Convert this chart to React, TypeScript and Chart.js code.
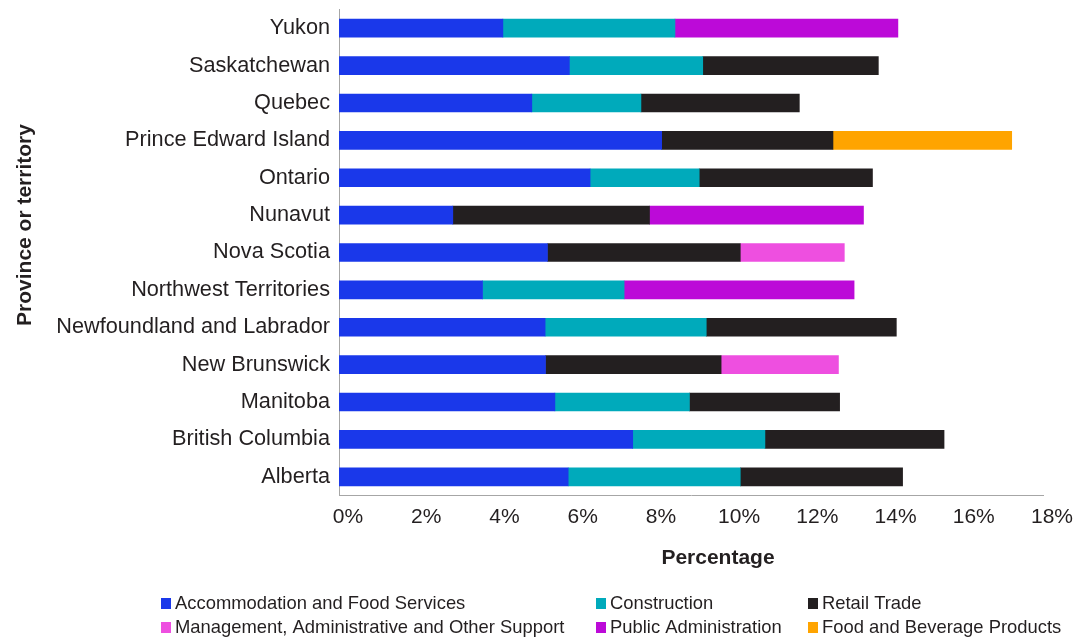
import React, { useEffect, useRef } from "react";
import { Chart, registerables } from "chart.js";

Chart.register(...registerables);

const provinces = [
  "Yukon",
  "Saskatchewan",
  "Quebec",
  "Prince Edward Island",
  "Ontario",
  "Nunavut",
  "Nova Scotia",
  "Northwest Territories",
  "Newfoundland and Labrador",
  "New Brunswick",
  "Manitoba",
  "British Columbia",
  "Alberta",
];

const accommodation = [4.19, 5.89, 4.93, 8.25, 6.42, 2.91, 5.33, 3.67, 5.27, 5.28, 5.52, 7.51, 5.86];
const construction = [4.4, 3.41, 2.79, null, 2.79, null, null, 3.62, 4.12, null, 3.44, 3.38, 4.4];
const retail = [null, 4.49, 4.05, 4.38, 4.43, 5.03, 4.93, null, 4.86, 4.49, 3.84, 4.58, 4.15];
const management = [null, null, null, null, null, null, 2.66, null, null, 3.0, null, null, null];
const publicAdmin = [5.7, null, null, null, null, 5.47, null, 5.88, null, null, null, null, null];
const foodBeverage = [null, null, null, 4.57, null, null, null, null, null, null, null, null, null];

const seriesNames = [
  "Accommodation and Food Services",
  "Construction",
  "Retail Trade",
  "Management, Administrative and Other Support",
  "Public Administration",
  "Food and Beverage Products",
];
const seriesColors = ["#1a38ea", "#00aabb", "#231f20", "#ee4fe0", "#bc0ad8", "#ffa400"];
const xTicks = [0, 2, 4, 6, 8, 10, 12, 14, 16, 18];

const FONT = "'Liberation Sans', Arial, Helvetica, sans-serif";
const TEXT = "#231f20";

const overlayPlugin = {
  id: "overlay",
  afterDraw(chart: any) {
    const ctx = chart.ctx;
    ctx.save();
    ctx.fillStyle = TEXT;
    // x axis title
    ctx.font = `bold 21px ${FONT}`;
    ctx.textAlign = "center";
    ctx.textBaseline = "middle";
    ctx.fillText("Percentage", 718, 558);
    // y axis title
    ctx.save();
    ctx.translate(25, 225);
    ctx.rotate(-Math.PI / 2);
    ctx.fillText("Province or territory", 0, 0);
    ctx.restore();
    // legend
    const cols = [161, 596, 808];
    const rows = [603, 627];
    ctx.font = `18.4px ${FONT}`;
    ctx.textAlign = "left";
    chart.data.datasets.forEach((ds: any, i: number) => {
      const x = cols[i % 3];
      const y = rows[Math.floor(i / 3)];
      ctx.fillStyle = ds.backgroundColor;
      ctx.fillRect(x, y - 5, 10, 11);
      ctx.fillStyle = TEXT;
      ctx.fillText(ds.label, x + 14, y + 1);
    });
    ctx.restore();
  },
};

export default function App() {
  const ref = useRef<HTMLCanvasElement | null>(null);
  useEffect(() => {
    document.body.style.margin = "0";
    const seriesData = [accommodation, construction, retail, management, publicAdmin, foodBeverage];
    const chart = new Chart(ref.current as HTMLCanvasElement, {
      type: "bar",
      data: {
        labels: provinces,
        datasets: seriesNames.map((name, i) => ({
          label: name,
          data: seriesData[i] as any,
          backgroundColor: seriesColors[i],
          borderWidth: 0,
          barThickness: 18,
        })),
      },
      options: {
        indexAxis: "y",
        animation: false,
        responsive: false,
        devicePixelRatio: 1,
        layout: { padding: { top: 9.5, right: 38, left: 0, bottom: 0 } },
        plugins: { legend: { display: false }, tooltip: { enabled: false } },
        scales: {
          x: {
            stacked: true,
            min: 0,
            max: 18,
            afterBuildTicks(scale: any) {
              scale.ticks = xTicks.map((v) => ({ value: v }));
            },
            afterFit(scale: any) {
              scale.height = 143.5;
              scale.paddingLeft = 0;
              scale.paddingRight = 0;
            },
            grid: { display: false, drawTicks: false },
            border: { display: true, color: "#a6a6a6", width: 1 },
            ticks: {
              color: TEXT,
              font: { family: FONT, size: 21 },
              padding: 9,
              labelOffset: 9,
              maxRotation: 0,
              autoSkip: false,
              callback: (v: any) => `${v}%`,
            },
          },
          y: {
            stacked: true,
            afterFit(scale: any) {
              scale.width = 339;
              scale.paddingTop = 0;
              scale.paddingBottom = 0;
            },
            grid: { display: false, drawTicks: false },
            border: { display: true, color: "#a6a6a6", width: 1 },
            ticks: {
              color: TEXT,
              font: { family: FONT, size: 21.7 },
              padding: 9,
              autoSkip: false,
            },
          },
        },
      },
      plugins: [overlayPlugin],
    });
    return () => chart.destroy();
  }, []);
  return (
    <div style={{ width: 1081, height: 639 }}>
      <canvas ref={ref} width={1081} height={639} style={{ display: "block" }} />
    </div>
  );
}
